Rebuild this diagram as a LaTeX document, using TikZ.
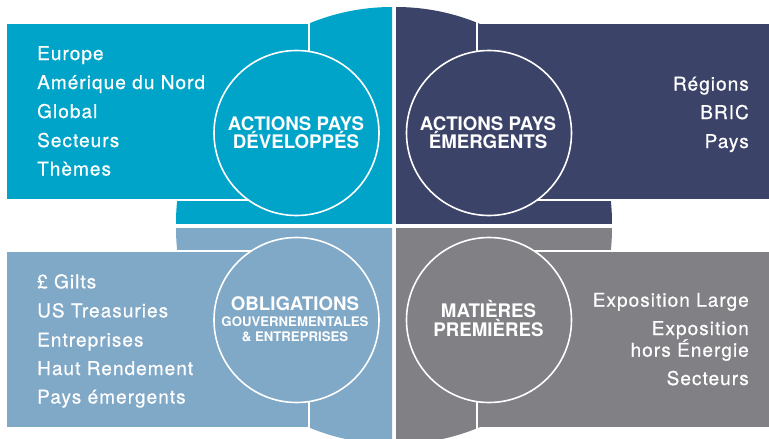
\documentclass[tikz,border=0pt]{standalone}
\usepackage{fontspec}
\setmainfont{TeX Gyre Heros}
\newfontfamily\lstfont[LetterSpace=5.5,FakeBold=0.6]{TeX Gyre Heros}
\definecolor{qtl}{HTML}{00A4C9}
\definecolor{qtr}{HTML}{3C4369}
\definecolor{qbl}{HTML}{80A8C7}
\definecolor{qbr}{HTML}{808085}
\tikzset{
  lst/.style={text=white,inner sep=0pt,font=\lstfont\fontsize{19}{19}\selectfont},
  ttl/.style={text=white,inner sep=0pt,anchor=base,font=\bfseries\fontsize{18.7}{18.7}\selectfont},
  sttl/.style={text=white,inner sep=0pt,anchor=base,font=\bfseries\fontsize{13.2}{13.2}\selectfont},
  gapline/.style={draw=white,line width=2pt},
  ring/.style={draw=white,line width=1.6pt}
}
\begin{document}
\begin{tikzpicture}[x=1pt,y=-1pt]
\useasboundingbox (0,0) rectangle (769,439);
% ---------- top left ----------
\begin{scope}
  \clip (0,0) rectangle (392,223);
  \fill[qtl] (392,223) circle[radius=216pt];
\end{scope}
\fill[qtl] (7,24) rectangle (309,200);
\draw[gapline] (7,200) -- (309,200) -- (309,22);
\node[circle,ring,fill=qtl,minimum size=165pt,inner sep=0pt] (ctl) at (296.5,133) {};
% ---------- top right ----------
\begin{scope}
  \clip (396,0) rectangle (769,223);
  \fill[qtr] (396,223) circle[radius=216pt];
\end{scope}
\fill[qtr] (477,24) rectangle (769,200);
\draw[gapline] (769,200) -- (477,200) -- (477,22);
\node[circle,ring,fill=qtr,minimum size=165pt,inner sep=0pt] (ctr) at (489,133) {};
% ---------- bottom left ----------
\begin{scope}
  \clip (0,228) rectangle (392,439);
  \fill[qbl] (392,228) circle[radius=216pt];
\end{scope}
\fill[qbl] (7,250.5) rectangle (309,426.5);
\draw[gapline] (7,250.5) -- (309,250.5) -- (309,430);
\node[circle,ring,fill=qbl,minimum size=165pt,inner sep=0pt] (cbl) at (296.5,320) {};
% ---------- bottom right ----------
\begin{scope}
  \clip (396,228) rectangle (769,439);
  \fill[qbr] (396,228) circle[radius=216pt];
\end{scope}
\fill[qbr] (477,250.5) rectangle (769,426.5);
\draw[gapline] (769,250.5) -- (477,250.5) -- (477,430);
\node[circle,ring,fill=qbr,minimum size=165pt,inner sep=0pt] (cbr) at (489,320) {};
% ---------- titles ----------
\node[ttl] (t1a) at (296,130) {ACTIONS PAYS};
\node[ttl] (t1b) at (296,148) {DÉVELOPPÉS};
\node[ttl] (t2a) at (488,130) {ACTIONS PAYS};
\node[ttl] (t2b) at (488,148) {ÉMERGENTS};
\node[ttl] (t3a) at (295,310.7) {OBLIGATIONS};
\node[sttl] (t3b) at (295,326.7) {GOUVERNEMENTALES};
\node[sttl] (t3c) at (295,341.7) {\& ENTREPRISES};
\node[ttl] (t4a) at (488.5,317.3) {MATIÈRES};
\node[ttl] (t4b) at (488.5,336.7) {PREMIÈRES};
% ---------- lists ----------
\node[lst,anchor=base west] (l1) at (37,60) {Europe};
\node[lst,anchor=base west] (l2) at (37,89) {Amérique du Nord};
\node[lst,anchor=base west] (l3) at (37,118) {Global};
\node[lst,anchor=base west] (l4) at (37,147) {Secteurs};
\node[lst,anchor=base west] (l5) at (37,175.5) {Thèmes};
\node[lst,anchor=base east] (r1) at (749,90.5) {Régions};
\node[lst,anchor=base east] (r2) at (749,119) {BRIC};
\node[lst,anchor=base east] (r3) at (749,148) {Pays};
\node[lst,anchor=base west] (b1) at (37,288.3) {£ Gilts};
\node[lst,anchor=base west] (b2) at (37,317.3) {US Treasuries};
\node[lst,anchor=base west] (b3) at (37,346.5) {Entreprises};
\node[lst,anchor=base west] (b4) at (37,375) {Haut Rendement};
\node[lst,anchor=base west] (b5) at (37,403.5) {Pays émergents};
\node[lst,anchor=base east] (s1) at (749,306.7) {Exposition Large};
\node[lst,anchor=base east] (s2) at (749,335) {Exposition};
\node[lst,anchor=base east] (s3) at (749,356.7) {hors Énergie};
\node[lst,anchor=base east] (s4) at (749,385) {Secteurs};
\end{tikzpicture}
\end{document}
